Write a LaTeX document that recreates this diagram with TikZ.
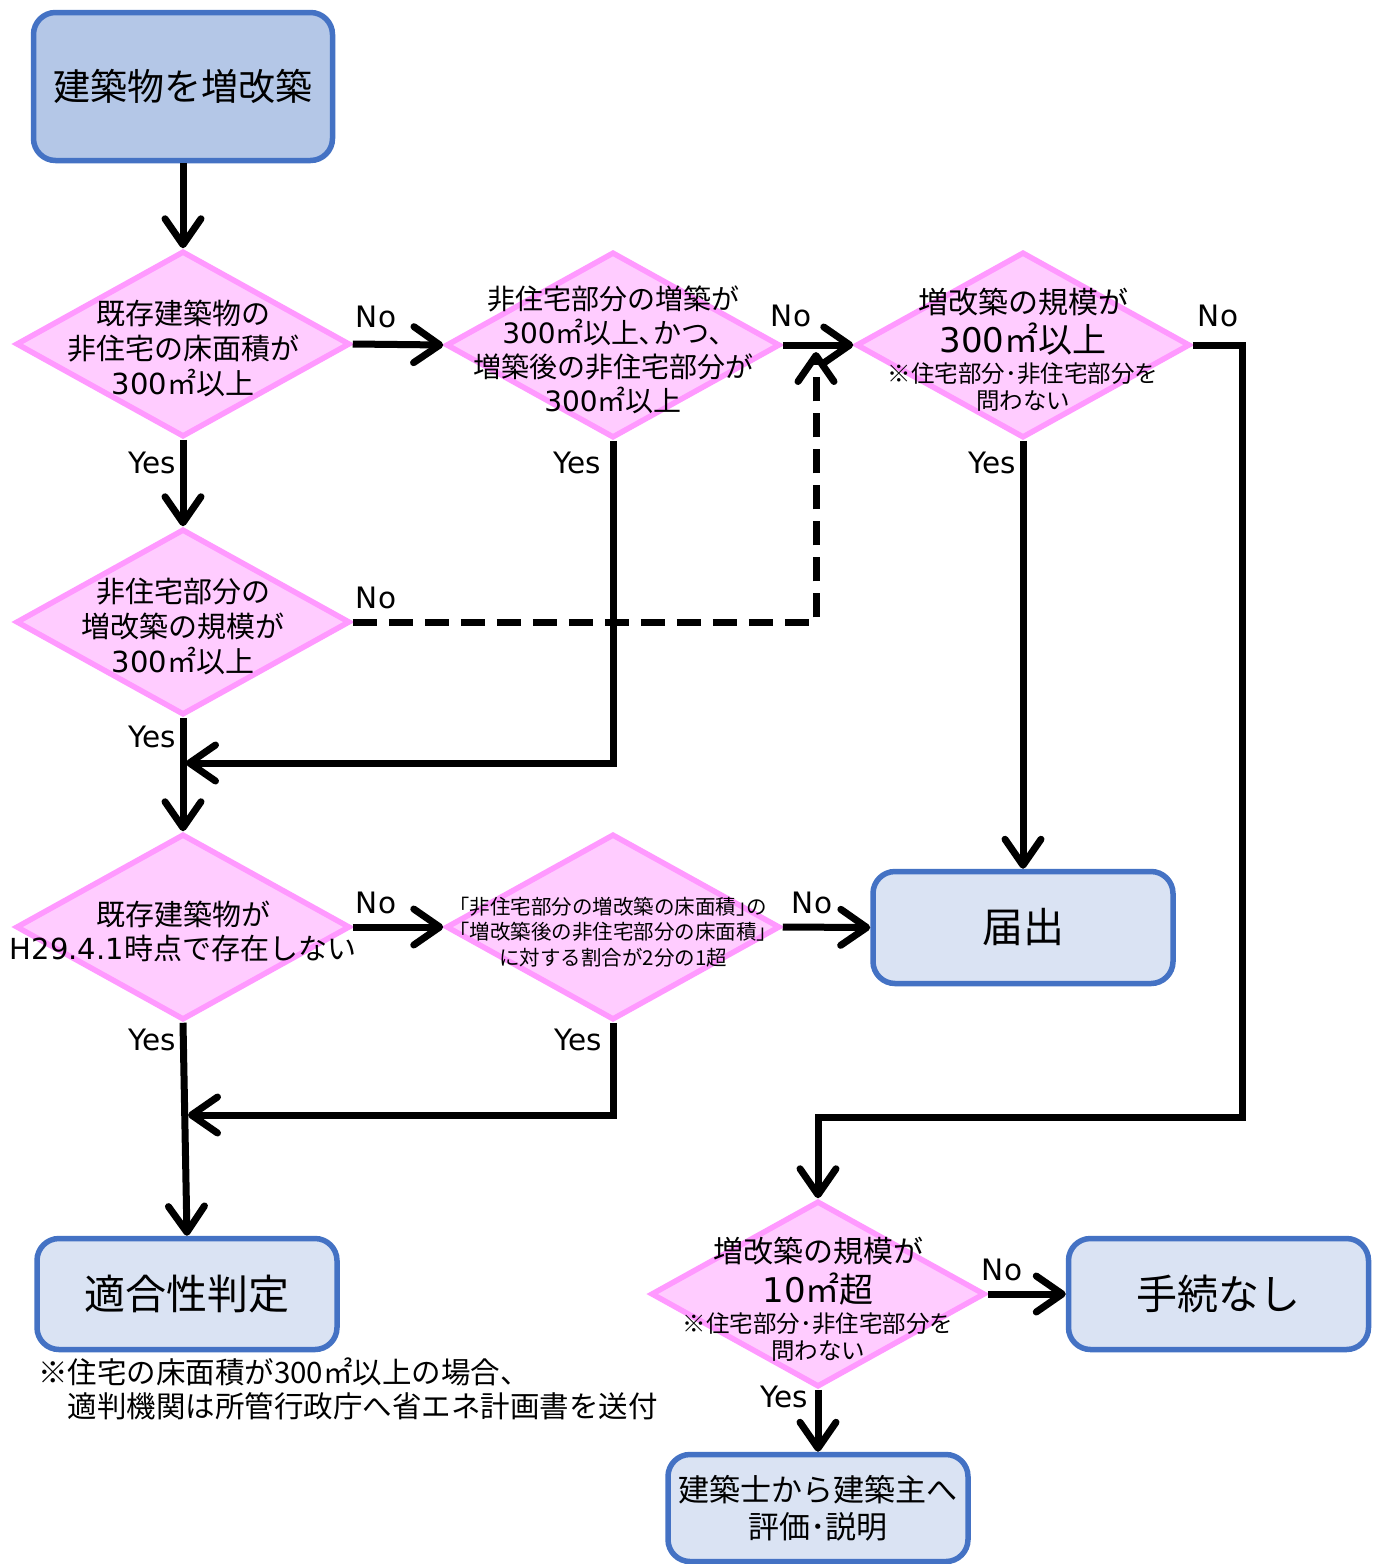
\documentclass[tikz,border=0pt]{standalone}
\usepackage{fontspec}
\setmainfont{Noto Sans CJK JP}
\newfontfamily\lat{DejaVu Sans}
\usetikzlibrary{arrows.meta,shapes.geometric}
\definecolor{dfill}{HTML}{FFCCFF}
\definecolor{ddraw}{HTML}{FF99FF}
\definecolor{bdraw}{HTML}{4472C4}
\definecolor{bfill}{HTML}{DAE3F3}
\definecolor{bfilltop}{HTML}{B4C7E7}
\newcommand{\fs}[2]{\fontsize{#1}{#2}\selectfont}
\begin{document}
\begin{tikzpicture}[x=1pt,y=-1pt,
  dia/.style={diamond, draw=ddraw, fill=dfill, line width=5.5pt, minimum width=334pt, minimum height=186pt, inner sep=0pt},
  box/.style={rectangle, rounded corners=22pt, draw=bdraw, fill=bfill, line width=5.5pt, minimum width=300pt, minimum height=111pt, inner sep=0pt, align=center},
  txt/.style={align=center, inner sep=0pt},
  lab/.style={font=\lat\fs{29.5}{33}, inner sep=0pt},
  conn/.style={line width=7pt, -{Straight Barb[length=26pt,width=36pt,line cap=round,line join=round]}},
  ]
\useasboundingbox (0,0) rectangle (1379,1564);
\fill[white] (0,0) rectangle (1379,1564);

% boxes
\node[box, fill=bfilltop, minimum width=299pt, minimum height=148pt, font=\fs{37}{44}] (b1) at (183,86.5) {建築物を増改築};
\node[box, font=\fs{41}{48}, minimum height=112pt] (todoke) at (1023,927.5) {届出};
\node[box, font=\fs{41}{48}] (tekigo) at (187,1294) {適合性判定};
\node[box, font=\fs{41}{48}] (tetsu) at (1218.5,1294) {手続なし};
\node[box, font=\fs{31}{37}, minimum height=107pt] (kenchi) at (818,1508) {建築士から建築主へ\\評価･説明};

% diamonds
\node[dia] (d1) at (183,344) {};
\node[dia] (d2) at (613,345) {};
\node[dia] (d3) at (1023,345) {};
\node[dia] (d4) at (183,622) {};
\node[dia] (d5) at (183,927) {};
\node[dia] (d6) at (613,927) {};
\node[dia] (d7) at (818,1294) {};

% diamond texts
\node[txt, font=\fs{29}{35}] (t1) at (183,348) {既存建築物の\\非住宅の床面積が\\{\lat 300}㎡以上};
\node[txt, font=\fs{28}{34}] (t2) at (613,350) {非住宅部分の増築が\\{\lat 300}㎡以上､かつ､\\増築後の非住宅部分が\\{\lat 300}㎡以上};
\node[txt, font=\fs{30}{36}] (t3a) at (1023,302) {増改築の規模が};
\node[txt, font=\fs{34}{40}] (t3b) at (1023,339) {{\lat 300}㎡以上};
\node[txt, font=\fs{23.5}{27}] (t3c) at (1023,387) {※住宅部分･非住宅部分を\\問わない};
\node[txt, font=\fs{29}{35}] (t4) at (183,626) {非住宅部分の\\増改築の規模が\\{\lat 300}㎡以上};
\node[txt, font=\fs{29}{34}] (t5) at (183,931) {既存建築物が\\{\lat H29.4.1}時点で存在しない};
\node[txt, font=\fs{20.5}{25.5}] (t6) at (613,932) {｢非住宅部分の増改築の床面積｣の\\｢増改築後の非住宅部分の床面積｣\\に対する割合が2分の1超};
\node[txt, font=\fs{30}{36}] (t7a) at (818,1251) {増改築の規模が};
\node[txt, font=\fs{34}{40}] (t7b) at (818,1289) {{\lat 10}㎡超};
\node[txt, font=\fs{23.5}{27}] (t7c) at (818,1337) {※住宅部分･非住宅部分を\\問わない};

% note
\node[txt, align=left, anchor=north west, font=\fs{29.5}{34}] (note) at (38,1358) {※住宅の床面積が300㎡以上の場合、\\\hspace*{1em}適判機関は所管行政庁へ省エネ計画書を送付};

% junction coordinates
\coordinate (j1) at (816,352);
\coordinate (j2) at (186,763);
\coordinate (j3) at (188,1115);
\coordinate (k1) at (1242,1117);

% connectors
\draw[conn] (b1.south) -- (d1.north);
\draw[conn] (d1.east) -- (d2.west);
\draw[conn] (d2.east) -- (d3.west);
\draw[conn] (d1.south) -- (d4.north);
\draw[conn, dash pattern=on 24pt off 12pt] (d4.east) -| (j1);
\draw[conn] (d2.south) |- (j2);
\draw[conn] (d4.south) -- (d5.north);
\draw[conn] (d3.south) -- (todoke.north);
\draw[conn] (d3.east) -| (k1) -| (d7.north);
\draw[conn] (d5.east) -- (d6.west);
\draw[conn] (d6.east) -- (todoke.west);
\draw[conn] (d6.south) |- (j3);
\draw[conn] (d5.south) -- (tekigo.north);
\draw[conn] (d7.east) -- (tetsu.west);
\draw[conn] (d7.south) -- (kenchi.north);

% labels
\node[lab] (n1) at (376,317) {No};
\node[lab] (n2) at (791,316) {No};
\node[lab] (n3) at (1218,316) {No};
\node[lab] (n4) at (376,598) {No};
\node[lab] (n5) at (376,903) {No};
\node[lab] (n6) at (812,903) {No};
\node[lab] (n7) at (1002,1270) {No};
\node[lab] (y1) at (152,463) {Yes};
\node[lab] (y2) at (577,463) {Yes};
\node[lab] (y3) at (992,463) {Yes};
\node[lab] (y4) at (152,737) {Yes};
\node[lab] (y5) at (152,1040) {Yes};
\node[lab] (y6) at (578,1040) {Yes};
\node[lab] (y7) at (784,1397) {Yes};
\end{tikzpicture}
\end{document}
